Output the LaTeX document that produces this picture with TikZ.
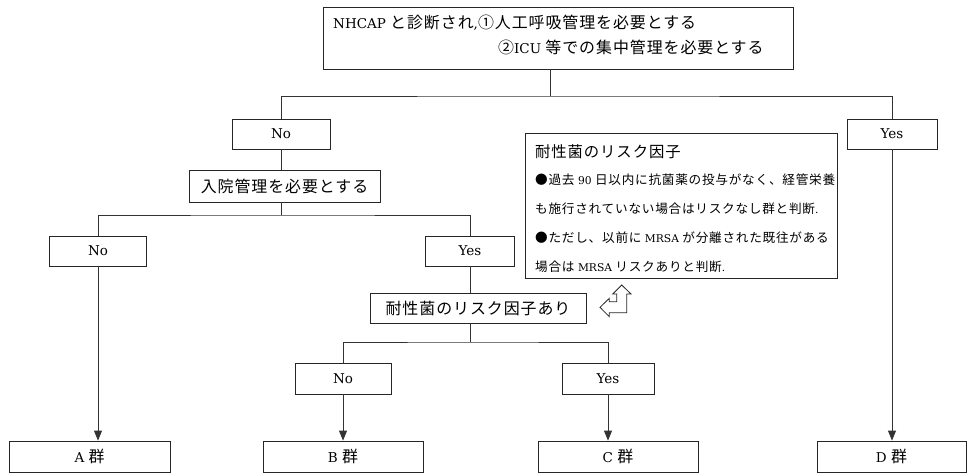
\documentclass[tikz,border=0pt]{standalone}
\usepackage{fontspec}
\setmainfont{DejaVu Serif}
\newfontfamily\jp{Noto Sans CJK JP}[Scale=1.18,LetterSpace=6]
\usetikzlibrary{arrows.meta}
\newcommand\jt[1]{{\jp #1}}
\begin{document}
\begin{tikzpicture}[x=1pt,y=-1pt,
  box/.style={draw=black!85, line width=0.8pt, inner sep=0pt, minimum height=30pt, font=\fontsize{13.5}{18}\selectfont},
  txt/.style={anchor=base west, inner sep=0pt},
  link/.style={draw=black!80, line width=0.8pt},
  arr/.style={link, -{Triangle[length=10pt,width=8pt]}}]
\useasboundingbox (0,0) rectangle (969,473);
% top box
\node[box, minimum width=470pt, minimum height=62pt] (top) at (558,38) {};
\node[txt, font=\fontsize{13.5}{18}\selectfont] (t1) at (333,29) {NHCAP \jt{と診断され},\jt{①人工呼吸管理を必要とする}};
\node[txt, font=\fontsize{13.5}{18}\selectfont] (t2) at (498,54) {\jt{②}ICU \jt{等での集中管理を必要とする}};
% level 1
\node[box, minimum width=98pt] (no1) at (281,134) {No};
\node[box, minimum width=90pt] (yes1) at (892,134) {Yes};
\node[box, minimum width=191pt, minimum height=32pt] (hosp) at (284.5,186) {\jt{入院管理を必要とする}};
% level 2
\node[box, minimum width=97pt] (no2) at (98,251) {No};
\node[box, minimum width=89pt] (yes2) at (470,251) {Yes};
\node[box, minimum width=216pt] (risk) at (478,308) {\jt{耐性菌のリスク因子あり}};
% level 3
\node[box, minimum width=96pt, minimum height=31pt] (no3) at (343,378.5) {No};
\node[box, minimum width=92pt, minimum height=31pt] (yes3) at (608,378.5) {Yes};
% groups
\node[box, minimum width=161pt, minimum height=31pt] (A) at (89.5,456.5) {A \jt{群}};
\node[box, minimum width=160pt, minimum height=31pt] (B) at (343,456.5) {B \jt{群}};
\node[box, minimum width=160pt, minimum height=31pt] (C) at (618,456.5) {C \jt{群}};
\node[box, minimum width=149pt, minimum height=31pt] (D) at (891.5,456.5) {D \jt{群}};
% risk info box
\node[box, minimum width=312pt, minimum height=145pt] (info) at (681,205.5) {};
\node[txt, font=\fontsize{13}{16}\selectfont] (i1) at (535,158) {\jt{耐性菌のリスク因子}};
\node[txt, font=\fontsize{10.7}{14}\selectfont] (i2) at (535,185) {\jt{●過去} 90 \jt{日以内に抗菌薬の投与がなく、経管栄養}};
\node[txt, font=\fontsize{10.7}{14}\selectfont] (i3) at (535,213.5) {\jt{も施行されていない場合はリスクなし群と判断}.};
\node[txt, font=\fontsize{10.7}{14}\selectfont] (i4) at (535,242) {\jt{●ただし、以前に} MRSA \jt{が分離された既往がある}};
\node[txt, font=\fontsize{10.7}{14}\selectfont] (i5) at (535,271) {\jt{場合は} MRSA \jt{リスクありと判断}.};
% junctions
\coordinate (j1) at (550,96);
\coordinate (j2) at (281,215);
\coordinate (j3) at (470,342);
% connectors
\draw[link] (top.south -| j1) -- (j1);
\draw[link] (no1.north) |- (j1) -| (yes1.north);
\draw[link] (no1.south) -- (hosp.north -| no1.south);
\draw[link] (hosp.south -| j2) -- (j2);
\draw[link] (no2.north) |- (j2) -| (yes2.north);
\draw[link] (yes2.south) -- (yes2.south |- risk.north);
\draw[link] (risk.south -| j3) -- (j3);
\draw[link] (no3.north) |- (j3) -| (yes3.north);
\draw[arr] (no2.south) -- (no2.south |- A.north);
\draw[arr] (no3.south) -- (no3.south |- B.north);
\draw[arr] (yes3.south) -- (yes3.south |- C.north);
\draw[arr] (yes1.south) -- (yes1.south |- D.north);
% hook arrow symbol
\draw[black!85, line width=0.8pt, line join=miter] (621.7,285) -- (631,294) -- (626.7,294) -- (626.7,312.7) -- (609.3,312.7) -- (609.3,316.7) -- (600,307.3) -- (609.3,298.3) -- (609.3,301.7) -- (616.7,301.7) -- (616.7,294) -- (612.7,294) -- cycle;
\end{tikzpicture}
\end{document}
